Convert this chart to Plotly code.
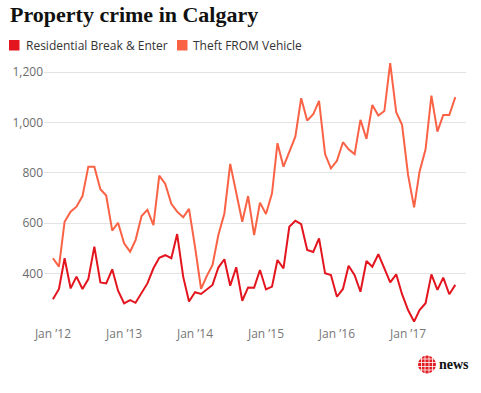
import plotly.graph_objects as go
import pandas as pd

months = pd.date_range("2012-01-01", "2017-09-01", freq="MS")

residential = [297, 338, 460, 340, 387, 338, 377, 506, 364, 360, 416, 331,
               281, 294, 283, 320, 360, 420, 462, 472, 460, 556, 387, 288,
               325, 318, 334, 354, 423, 456, 351, 424, 291, 344, 343, 413,
               336, 347, 453, 420, 585, 609, 595, 493, 485, 539, 400, 393,
               307, 338, 430, 393, 327, 449, 426, 476, 420, 364, 396, 317,
               254, 208, 254, 281, 396, 334, 383, 317, 354]

theft = [460, 427, 605, 645, 665, 707, 824, 824, 734, 709, 570, 601,
         519, 486, 532, 628, 652, 592, 788, 755, 676, 645, 623, 656,
         505, 338, 387, 433, 552, 638, 835, 718, 605, 707, 552, 681,
         636, 718, 917, 824, 884, 943, 1096, 1007, 1032, 1085, 874, 817,
         847, 921, 893, 874, 1010, 934, 1069, 1027, 1045, 1235, 1040, 990,
         791, 662, 804, 893, 1106, 963, 1029, 1029, 1100]

series_names = ["Residential Break & Enter", "Theft FROM Vehicle"]
series_colors = ["#E3151E", "#FA6246"]
ytick_vals = [400, 600, 800, 1000, 1200]
xtick_vals = ["2012-01-01", "2013-01-01", "2014-01-01", "2015-01-01", "2016-01-01", "2017-01-01"]

W, H = 481, 393
L, R, T, B = 44, 15, 60, 68
PW, PH = W - L - R, H - T - B


def px(x):
    return (x - L) / PW


def py(y):
    return (H - B - y) / PH


fig = go.Figure()
for name, vals, col in zip(series_names, [residential, theft], series_colors):
    fig.add_trace(go.Scatter(x=months, y=vals, mode="lines", name=name,
                             line=dict(color=col, width=2), showlegend=False))

fig.update_layout(
    width=W, height=H,
    margin=dict(l=L, r=R, t=T, b=B, autoexpand=False),
    paper_bgcolor="white", plot_bgcolor="white",
    xaxis=dict(range=["2011-11-16", "2017-10-26"], tickvals=xtick_vals, automargin=False,
               tickformat="%b \u2019%y", showgrid=False, zeroline=False,
               showline=False, ticks="", tickfont=dict(family="Open Sans", size=12, color="#777777")),
    yaxis=dict(range=[194.7, 1247.7], tickvals=ytick_vals, tickformat=",", automargin=False,
               showgrid=True, gridcolor="#e3e3e3", gridwidth=1, zeroline=False,
               showline=False, ticks="", tickfont=dict(family="Open Sans", size=12, color="#6b6b6b")),
)

annotations = [
    dict(text="<b>Property crime in Calgary</b>", x=px(8), y=py(14), xref="paper", yref="paper",
         xanchor="left", yanchor="middle", showarrow=False,
         font=dict(family="Liberation Serif", size=22, color="#111111")),
    dict(text=series_names[0], x=px(24), y=py(45.5), xref="paper", yref="paper",
         xanchor="left", yanchor="middle", showarrow=False,
         font=dict(family="Open Sans", size=12, color="#333333")),
    dict(text=series_names[1], x=px(191), y=py(45.5), xref="paper", yref="paper",
         xanchor="left", yanchor="middle", showarrow=False,
         font=dict(family="Open Sans", size=12, color="#333333")),
    dict(text="<b>news</b>", x=px(437), y=py(364), xref="paper", yref="paper",
         xanchor="left", yanchor="middle", showarrow=False,
         font=dict(family="Liberation Serif", size=14, color="#111111")),
]
fig.update_layout(annotations=annotations)

shapes = [
    dict(type="rect", xref="paper", yref="paper", x0=px(9), x1=px(19.5), y0=py(50.5), y1=py(40),
         fillcolor=series_colors[0], line=dict(width=0)),
    dict(type="rect", xref="paper", yref="paper", x0=px(177), x1=px(187.5), y0=py(50.5), y1=py(40),
         fillcolor=series_colors[1], line=dict(width=0)),
    dict(type="circle", xref="paper", yref="paper", x0=px(418), x1=px(436), y0=py(373.5), y1=py(355.5),
         fillcolor="#E31B23", line=dict(width=0)),
]
for gx in [421.5, 425, 429, 432.5]:
    shapes.append(dict(type="line", xref="paper", yref="paper", x0=px(gx), x1=px(gx),
                       y0=py(373.5), y1=py(355.5), line=dict(color="white", width=0.8)))
for gy in [359, 362.5, 366.5, 370]:
    shapes.append(dict(type="line", xref="paper", yref="paper", x0=px(418), x1=px(436),
                       y0=py(gy), y1=py(gy), line=dict(color="white", width=0.8)))
fig.update_layout(shapes=shapes)

fig.write_html("out.html", config={"displayModeBar": False},
               post_script="document.body.style.margin = '0';")
